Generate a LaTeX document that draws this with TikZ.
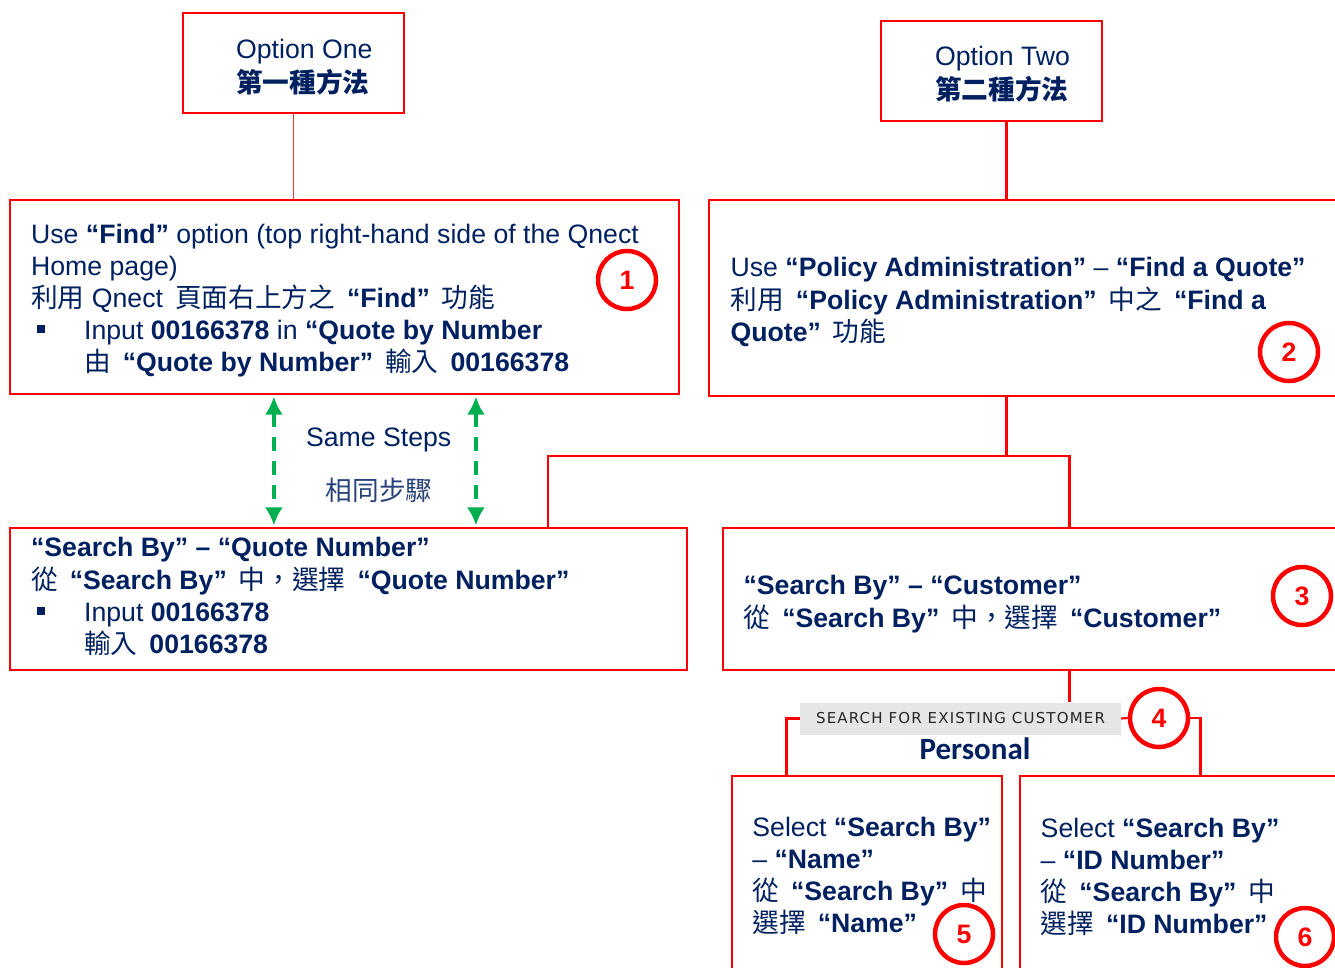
\documentclass[tikz,border=0pt]{standalone}
\usepackage{fontspec}
\setmainfont{Liberation Sans}
\newfontfamily\cjk[Script=CJK,Language=Chinese Traditional]{Noto Sans CJK TC}
\newfontfamily\tagfont[LetterSpace=7.8]{DejaVu Sans}
\newfontfamily\calfont{Carlito}
\usetikzlibrary{positioning,arrows.meta}

\definecolor{navy}{HTML}{002060}
\definecolor{boxred}{HTML}{FF0000}
\definecolor{stepgreen}{HTML}{00B050}
\definecolor{taggray}{HTML}{E7E6E6}
\definecolor{tagtext}{HTML}{262626}

\newcommand{\zh}[1]{{\cjk #1}}
\newcommand{\gap}{\hspace{12pt}}
\newcommand{\sqbullet}{\makebox[53pt][l]{\hspace*{6pt}\raisebox{6pt}{\rule{8pt}{8pt}}}}
\newcommand{\indentline}{\hspace*{53pt}}

\begin{document}
\begin{tikzpicture}[x=1pt,y=-1pt,font=\fontsize{26.67}{32}\selectfont,text=navy]
                \tikzstyle{box} = [rectangle, draw=boxred, line width=2.2pt, inner sep=0pt]
                \tikzstyle{txt} = [anchor=north west, inner sep=0pt, align=left]
                \tikzstyle{num} = [circle, draw=boxred, line width=4.5pt, fill=white, minimum size=58pt, inner sep=0pt, text=boxred, font=\fontsize{26.67}{32}\selectfont\bfseries]
                \tikzstyle{link} = [draw=boxred, line width=2.2pt]
                \tikzstyle{samearrow} = [stepgreen, line width=3.3pt, dash pattern=on 14pt off 10pt, <->, >={Latex[length=18pt,width=18pt]}, shorten <=1.5pt, shorten >=1.5pt]
                \useasboundingbox (0,0) rectangle (1335,967);
                \clip (0,0) rectangle (1335,967);

                % boxes
                \node (opt1) [box, minimum width=221pt, minimum height=100pt] at (293.5,63) {};
                \node (opt2) [box, minimum width=221pt, minimum height=100pt] at (991.5,71) {};
                \node (find) [box, minimum width=669pt, minimum height=194pt] at (344.5,297) {};
                \node (policy) [box, minimum width=636pt, minimum height=196pt] at (1027,298) {};
                \node (quote) [box, minimum width=677pt, minimum height=142pt] at (348.5,599) {};
                \node (customer) [box, minimum width=622pt, minimum height=142pt] at (1034,599) {};
                \node (name) [box, minimum width=269.6pt, minimum height=209pt] at (866.8,880.5) {};
                \node (idnum) [box, minimum width=325pt, minimum height=209pt] at (1182.5,880.5) {};

                % texts
                \node (opt1txt) [txt] at ([shift={(54,24)}]opt1.north west) {\strut Option One\\ \textbf{\zh{第一種方法}}};
                \node (opt2txt) [txt] at ([shift={(55,23)}]opt2.north west) {\strut Option Two\\ \textbf{\zh{第二種方法}}};
                \node (findtxt) [txt] at ([shift={(22,21.5)}]find.north west) {\strut Use \textbf{“Find”} option (top right-hand side of the Qnect\\
                    Home page)\\
                    \zh{利用}\ Qnect\gap\zh{頁面右上方之}\gap\textbf{“Find”}\gap\zh{功能}\\
                    \sqbullet Input \textbf{00166378} in \textbf{“Quote by Number}\\
                    \indentline\zh{由}\gap\textbf{“Quote by Number”}\gap\zh{輸入}\gap\textbf{00166378}};
                \node (policytxt) [txt] at ([shift={(22.5,55)}]policy.north west) {\strut Use \textbf{“Policy Administration”} – \textbf{“Find a Quote”}\\
                    \zh{利用}\gap\textbf{“Policy Administration”}\gap\zh{中之}\gap\textbf{“Find a}\\
                    \textbf{Quote”}\gap\zh{功能}};
                \node (quotetxt) [txt] at ([shift={(22,6.8)}]quote.north west) {\strut\textbf{“Search By” – “Quote Number”}\\
                    \zh{從}\gap\textbf{“Search By”}\gap\zh{中，選擇}\gap\textbf{“Quote Number”}\\
                    \sqbullet Input \textbf{00166378}\\
                    \indentline\zh{輸入}\gap\textbf{00166378}};
                \node (customertxt) [txt] at ([shift={(21.5,44.5)}]customer.north west) {\strut\textbf{“Search By” – “Customer”}\\
                    \zh{從}\gap\textbf{“Search By”}\gap\zh{中，選擇}\gap\textbf{“Customer”}};
                \node (nametxt) [txt] at ([shift={(21.3,39)}]name.north west) {\strut Select \textbf{“Search By”}\\
                    – \textbf{“Name”}\\
                    \zh{從}\gap\textbf{“Search By”}\gap\zh{中}\\
                    \zh{選擇}\gap\textbf{“Name”}};
                \node (idtxt) [txt] at ([shift={(21.6,39.5)}]idnum.north west) {\strut Select \textbf{“Search By”}\\
                    – \textbf{“ID Number”}\\
                    \zh{從}\gap\textbf{“Search By”}\gap\zh{中}\\
                    \zh{選擇}\gap\textbf{“ID Number”}};
                \node (same1) [anchor=base] at (378.7,446) {Same Steps};
                \node (same2) [anchor=base, text=navy!85] at (379,500) {\zh{相同步驟}};

                % label between customer and the two searches
                \node (tag) [fill=taggray, minimum width=321pt, minimum height=32pt, inner sep=0pt, text=tagtext, font=\fontsize{15}{18}\tagfont] at (960.5,718.5) {SEARCH FOR EXISTING CUSTOMER};
                \node (personal) [font=\fontsize{31}{36}\calfont\bfseries] at (975,749) {Personal};

                % numbers
                \node (n1) [num] at (627,280) {1};
                \node (n2) [num] at (1289,352) {2};
                \node (n3) [num] at (1302,596) {3};
                \node (n4) [num] at (1159,718) {4};
                \node (n5) [num] at (964,934) {5};
                \node (n6) [num] at (1305,937) {6};

                % connectors
                \coordinate (fork) at (1006.5,456);
                \coordinate (custdrop) at ([xshift=347.5pt]customer.south west);
                \draw [boxred!80, line width=1pt] (opt1.south) -- (opt1.south |- find.north);
                \draw [link, line width=3pt] (fork |- opt2.south) -- (fork |- policy.north);
                \draw [link] (fork |- policy.south) -- (fork);
                \draw [link] ([xshift=539pt]quote.north west) |- (fork) -| ([xshift=347.5pt]customer.north west);
                \draw [link] (custdrop) -- (custdrop |- tag.north);
                \draw [link] (tag.west) -| ([xshift=55.5pt]name.north west);
                \draw [link] (tag.east) -- (n4.west);
                \draw [link] (n4.east) -| ([xshift=181.6pt]idnum.north west);
                \draw [samearrow] ([xshift=265pt]find.south west) -- ([xshift=265pt]quote.north west);
                \draw [samearrow] ([xshift=467pt]find.south west) -- ([xshift=467pt]quote.north west);
\end{tikzpicture}
\end{document}
